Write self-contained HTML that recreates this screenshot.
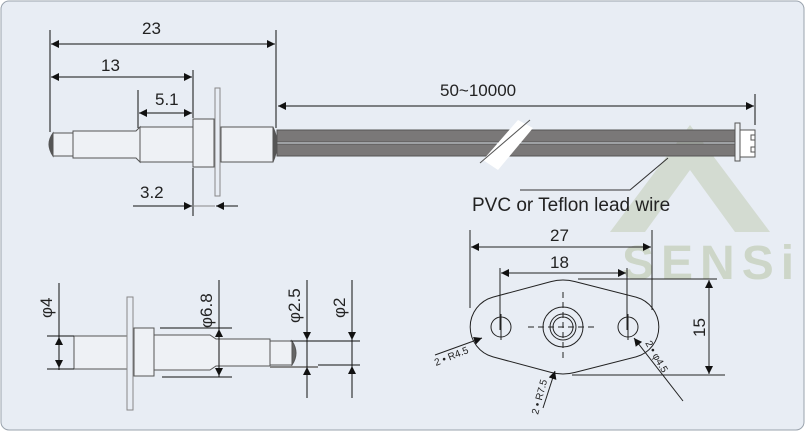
<!DOCTYPE html>
<html><head><meta charset="utf-8"><style>
html,body{margin:0;padding:0;background:#fff;}
svg{display:block;}
text{font-family:"Liberation Sans",sans-serif;fill:#222;}
</style></head><body>
<svg width="805" height="431" viewBox="0 0 805 431" xmlns="http://www.w3.org/2000/svg">
<defs>
<marker id="a" viewBox="0 0 10 10" refX="10" refY="5" markerWidth="10" markerHeight="8" orient="auto-start-reverse" markerUnits="userSpaceOnUse"><path d="M0,0 L10,5 L0,10 Z" fill="#111"/></marker>
</defs>
<rect x="1" y="1" width="803" height="429" rx="8" fill="#e8edf4" stroke="#9aa3ad"/>
<!-- watermark -->
<g fill="#cdd6c8">
<path d="M690,125 L770,232 L735,232 L690,170 L645,232 L610,232 Z" opacity="0.8"/>
<path d="M690,175 L725,225 L655,225 Z" fill="#e8edf4"/>
<text x="622" y="279" font-size="48" font-weight="bold" fill="#cdd6c8" style="fill:#cdd6c8" letter-spacing="7">SENSi</text>
</g>
<g stroke="#111" stroke-width="1" fill="none">
<line x1="50" y1="30" x2="50" y2="132"/>
<line x1="276" y1="30" x2="276" y2="128"/>
<line x1="51" y1="44" x2="275" y2="44" marker-start="url(#a)" marker-end="url(#a)"/>
<line x1="193" y1="70" x2="193" y2="118"/>
<line x1="51" y1="77" x2="192" y2="77" marker-start="url(#a)" marker-end="url(#a)"/>
<line x1="138" y1="90" x2="138" y2="128"/>
<line x1="139" y1="113" x2="192" y2="113" marker-start="url(#a)" marker-end="url(#a)"/>
<line x1="193" y1="168" x2="193" y2="216"/>
<line x1="133" y1="206" x2="192" y2="206" marker-end="url(#a)"/>
<line x1="238" y1="206" x2="216" y2="206" marker-end="url(#a)"/>
<line x1="193" y1="206" x2="215" y2="206" stroke="#888"/>
<line x1="755" y1="94" x2="755" y2="125"/>
<line x1="278" y1="106" x2="754" y2="106" marker-start="url(#a)" marker-end="url(#a)"/>
</g>
<g font-size="17">
<text x="142" y="34">23</text>
<text x="101" y="71">13</text>
<text x="155" y="105">5.1</text>
<text x="140" y="198">3.2</text>
<text x="440" y="96">50~10000</text>
</g>
<!-- top probe -->
<g stroke="#555" stroke-width="1" fill="#eef1f5">
<rect x="140" y="127" width="53" height="35"/>
<path d="M73,131 L136,131 L140,127 L140,162 L136,158 L73,158 Z"/>
<rect x="53" y="133" width="20" height="23"/>
<path d="M53,133 Q45,144 53,156 Z" fill="#555"/>
<rect x="193" y="119" width="21" height="48"/>
<rect x="215" y="88" width="5" height="108" fill="#e8edf4" stroke="#888"/>
<rect x="221" y="127" width="52" height="35"/>
<path d="M273,127 Q281,144 273,162 Z" fill="#555"/>
</g>
<rect x="277" y="130" width="458" height="12" fill="#7a7878" stroke="#555"/>
<rect x="277" y="144" width="458" height="12" fill="#7a7878" stroke="#555"/>
<rect x="735" y="123" width="5" height="38" fill="#eef1f5" stroke="#555"/>
<rect x="740" y="130" width="15" height="27" fill="#fff" stroke="#555"/>
<rect x="751" y="135" width="4" height="5" fill="#fff" stroke="#555"/>
<rect x="751" y="147" width="4" height="5" fill="#fff" stroke="#555"/>
<path d="M483,160 L518,120 L533,128 L498,170 Z" fill="#fff"/>
<line x1="480" y1="163" x2="530" y2="120" stroke="#555"/>
<polyline points="668,158 630,190 520,190" fill="none" stroke="#333"/>
<text x="472" y="211" font-size="19">PVC or Teflon lead wire</text>
<!-- bottom left -->
<g stroke="#555" stroke-width="1" fill="#eef1f5">
<rect x="74" y="336" width="53" height="33"/>
<rect x="127" y="297" width="6" height="113" fill="#e8edf4" stroke="#888"/>
<rect x="134" y="328" width="20" height="48"/>
<path d="M154,335 L210,335 L216,339 L270,339 L270,366 L216,366 L210,370 L154,370 Z"/>
<rect x="270" y="341" width="22" height="24"/>
<path d="M292,341 Q300,353 292,365 Z" fill="#666"/>
<line x1="270" y1="367" x2="318" y2="367" stroke="#888" stroke-width="2"/>
</g>
<g stroke="#111" stroke-width="1" fill="none">
<line x1="47" y1="336" x2="74" y2="336"/><line x1="47" y1="369" x2="74" y2="369"/>
<line x1="59" y1="283" x2="59" y2="370"/>
<line x1="59" y1="352" x2="59" y2="337" marker-end="url(#a)"/><line x1="59" y1="352" x2="59" y2="368" marker-end="url(#a)"/>
<line x1="160" y1="328" x2="232" y2="328"/><line x1="162" y1="377" x2="232" y2="377"/>
<line x1="219" y1="280" x2="219" y2="377"/>
<line x1="219" y1="352" x2="219" y2="329" marker-end="url(#a)"/><line x1="219" y1="352" x2="219" y2="376" marker-end="url(#a)"/>
<line x1="290" y1="341" x2="318" y2="341"/>
<line x1="307" y1="280" x2="307" y2="398"/>
<line x1="307" y1="325" x2="307" y2="340" marker-end="url(#a)"/><line x1="307" y1="382" x2="307" y2="367" marker-end="url(#a)"/>
<line x1="318" y1="341" x2="360" y2="341"/><line x1="318" y1="365" x2="360" y2="365"/>
<line x1="352" y1="280" x2="352" y2="398"/>
<line x1="352" y1="325" x2="352" y2="340" marker-end="url(#a)"/><line x1="352" y1="382" x2="352" y2="366" marker-end="url(#a)"/>
</g>
<g font-size="17">
<text transform="translate(52,318) rotate(-90)">φ4</text>
<text transform="translate(212,328) rotate(-90)">φ6.8</text>
<text transform="translate(300,323) rotate(-90)">φ2.5</text>
<text transform="translate(345,318) rotate(-90)">φ2</text>
</g>
<!-- bottom right plate -->
<g stroke="#222" stroke-width="1" fill="none">
<path d="M493,297.1 L550.9,281.6 A47 47 0 0 1 575.1,281.6 L636,297.1 A31 31 0 0 1 636,356.9 L575.1,372.4 A47 47 0 0 1 550.9,372.4 L493,356.9 A31 31 0 0 1 493,297.1 Z"/>
<circle cx="501" cy="327" r="10"/><circle cx="628" cy="327" r="10"/>
<circle cx="563" cy="327" r="20"/><circle cx="563" cy="327" r="13"/><circle cx="563" cy="327" r="10"/>
<line x1="501" y1="314" x2="501" y2="340"/><line x1="628" y1="314" x2="628" y2="340"/>
<line x1="528" y1="327" x2="598" y2="327" stroke-dasharray="6,4"/>
<line x1="563" y1="292" x2="563" y2="362" stroke-dasharray="6,4"/>
<line x1="470" y1="230" x2="470" y2="308"/><line x1="652" y1="230" x2="652" y2="310"/>
<line x1="471" y1="247" x2="651" y2="247" marker-start="url(#a)" marker-end="url(#a)"/>
<line x1="500" y1="268" x2="500" y2="330"/><line x1="627" y1="268" x2="627" y2="330"/>
<line x1="501" y1="273" x2="626" y2="273" marker-start="url(#a)" marker-end="url(#a)"/>
<line x1="578" y1="279" x2="717" y2="279"/><line x1="572" y1="375" x2="725" y2="375"/>
<line x1="709" y1="280" x2="709" y2="374" marker-start="url(#a)" marker-end="url(#a)"/>
<line x1="435" y1="355" x2="482" y2="338" marker-end="url(#a)"/>
<line x1="543" y1="408" x2="555" y2="371" marker-end="url(#a)"/>
<line x1="683" y1="401" x2="634" y2="338" marker-end="url(#a)"/>
</g>
<g font-size="17">
<text x="550" y="241">27</text>
<text x="550" y="268">18</text>
<text transform="translate(705,337) rotate(-90)">15</text>
</g>
<g font-size="10">
<text transform="translate(436,366) rotate(-22)">2 • R4.5</text>
<text transform="translate(538,415) rotate(-75)">2 • R7.5</text>
<text transform="translate(645,343) rotate(60)">2 • φ4.5</text>
</g>
</svg>
</body></html>
